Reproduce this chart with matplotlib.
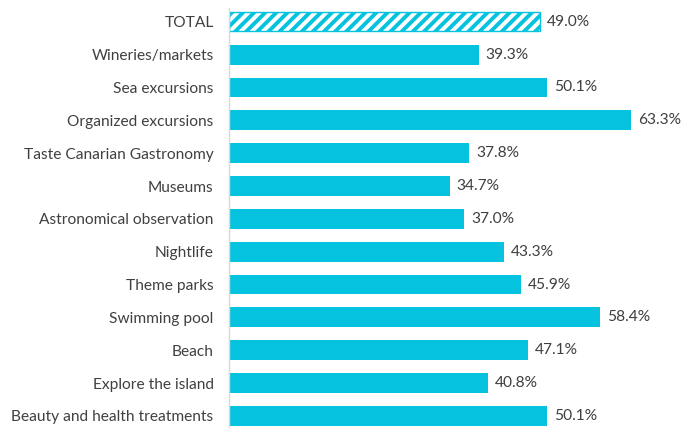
import numpy as np
import matplotlib
matplotlib.use("Agg")
import matplotlib.pyplot as plt

categories = [
    "TOTAL", "Wineries/markets", "Sea excursions", "Organized excursions",
    "Taste Canarian Gastronomy", "Museums", "Astronomical observation",
    "Nightlife", "Theme parks", "Swimming pool", "Beach",
    "Explore the island", "Beauty and health treatments",
]
values = [49.0, 39.3, 50.1, 63.3, 37.8, 34.7, 37.0, 43.3, 45.9, 58.4, 47.1, 40.8, 50.1]

CYAN = "#05C3DE"
plt.rcParams["font.family"] = ["Lato", "DejaVu Sans"]
plt.rcParams["hatch.linewidth"] = 2.8

fig = plt.figure(figsize=(6.81, 4.28), dpi=100)
ax = fig.add_axes([0.337, 0.0, 0.663, 0.982])

y = np.arange(len(categories))
for i, (cat, v) in enumerate(zip(categories, values)):
    if cat == "TOTAL":
        # total bar drawn with diagonal stripes
        ax.barh(i, v, height=0.58, color="white", edgecolor=CYAN,
                hatch="///", linewidth=1.0)
    else:
        ax.barh(i, v, height=0.6, color=CYAN, edgecolor="none")
    ax.text(v + 1.1, i, f"{v:.1f}%", va="center", ha="left",
            fontsize=11.2, color="#404040")

ax.set_yticks(y)
ax.set_yticklabels(categories, fontsize=11.2, color="#404040")
ax.set_ylim(12.37, -0.43)
ax.set_xlim(0, 71.2)
ax.set_xticks([])
ax.tick_params(axis="y", length=0, pad=11.5)
for s in ["top", "right", "bottom"]:
    ax.spines[s].set_visible(False)
ax.spines["left"].set_color("#D9D9D9")
ax.spines["left"].set_linewidth(1.0)

fig.savefig("out.png", dpi=100)
